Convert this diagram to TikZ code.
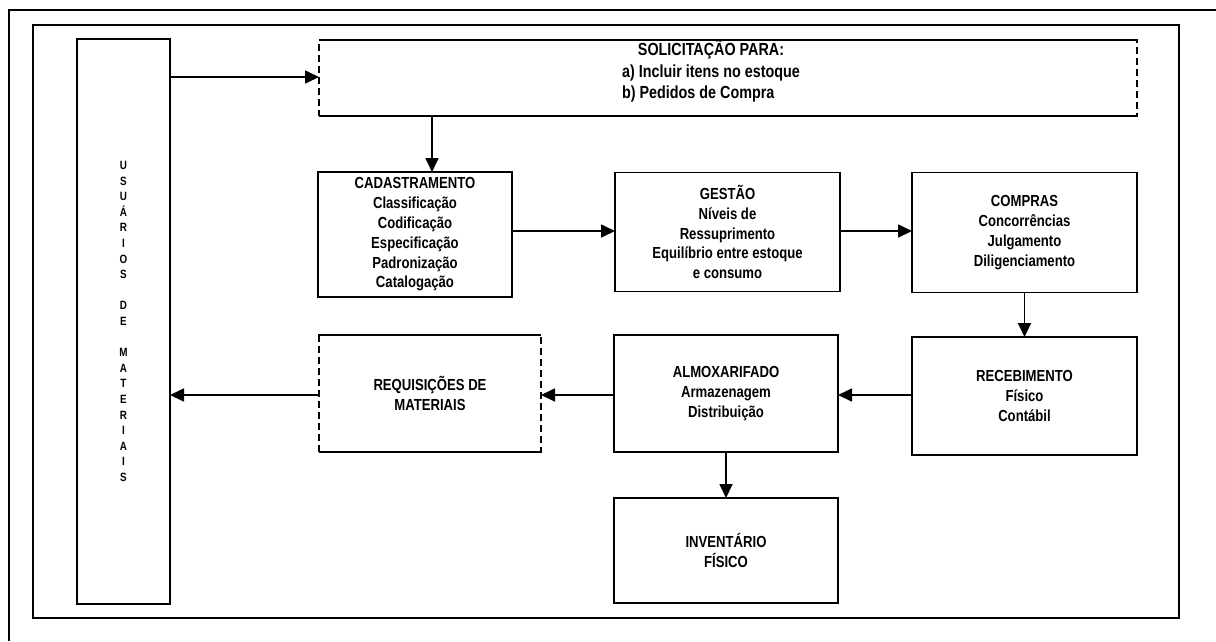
\documentclass[tikz,border=0pt]{standalone}
\usepackage{fontspec}
\setmainfont{Liberation Sans}[FakeStretch=0.82]
\usetikzlibrary{arrows.meta}
\begin{document}
\begin{tikzpicture}[x=1pt,y=-1pt,
  box/.style={draw, line width=1.7pt, inner sep=0pt, outer sep=0pt, align=center,
    font=\fontsize{16}{19.8}\selectfont\bfseries},
  dbox/.style={box, dash pattern=on 7pt off 4pt},
  solid edge/.style={line width=1.7pt},
  conn/.style={line width=1.7pt, -{Triangle[length=14pt,width=13pt]}},
  frame/.style={line width=1.6pt}]
\useasboundingbox (0,0) rectangle (1216,641);
% page frame
\draw[line width=2.8pt] (9,641) -- (9,10) -- (1216,10);
\draw[frame] (33,25) rectangle (1179,618);
% users column
\node[box, minimum width=93pt, minimum height=565pt, font=\fontsize{12}{15.6}\selectfont\bfseries]
  (usu) at (123.5,321.5)
  {U\\S\\U\\Á\\R\\I\\O\\S\\[15.6pt]D\\E\\[15.6pt]M\\A\\T\\E\\R\\I\\A\\I\\S};
% solicitation
\node[dbox, minimum width=818pt, minimum height=76pt] (sol) at (728,78) {};
\draw[solid edge] (sol.north west) -- (sol.north east);
\draw[solid edge] (sol.south west) -- (sol.south east);
\node[inner sep=0pt, font=\fontsize{17.5}{21.5}\selectfont\bfseries] (soltxt) at (711,72.5)
  {\begin{tabular}{@{}l@{}}\multicolumn{1}{@{}c@{}}{SOLICITAÇÃO PARA:}\\
   a) Incluir itens no estoque\\ b) Pedidos de Compra\end{tabular}};
% first row
\node[box, minimum width=194pt, minimum height=125pt] (cad) at (415,234.5)
  {CADASTRAMENTO\\Classificação\\Codificação\\Especificação\\Padronização\\Catalogação};
\node[box, minimum width=225pt, minimum height=119pt] (ges) at (727.5,232)
  {GESTÃO\\Níveis de\\Ressuprimento\\Equilíbrio entre estoque\\e consumo};
\node[box, minimum width=225pt, minimum height=120pt] (com) at (1024.5,232.5)
  {COMPRAS\\Concorrências\\Julgamento\\Diligenciamento};
% second row
\node[box, minimum width=225pt, minimum height=118pt] (rec) at (1024.5,396)
  {RECEBIMENTO\\Físico\\Contábil};
\node[box, minimum width=224pt, minimum height=117pt] (alm) at (726,393.5)
  {ALMOXARIFADO\\Armazenagem\\Distribuição};
\node[dbox, minimum width=222pt, minimum height=117pt] (req) at (430,393.5)
  {REQUISIÇÕES DE\\MATERIAIS};
\draw[solid edge] (req.north west) -- (req.north east);
\draw[solid edge] (req.south west) -- (req.south east);
\node[box, minimum width=224pt, minimum height=105pt] (inv) at (726,550.5)
  {INVENTÁRIO\\FÍSICO};
% connectors
\draw[conn] (usu.east |- 0,77) -- (sol.west |- 0,77);
\draw[conn] (sol.south -| 432,0) -- (cad.north -| 432,0);
\draw[conn] (cad.east |- 0,231) -- (ges.west |- 0,231);
\draw[conn] (ges.east |- 0,231) -- (com.west |- 0,231);
\draw[conn] (com.south) -- (rec.north);
\draw[conn] (rec.west |- 0,395) -- (alm.east |- 0,395);
\draw[conn] (alm.west |- 0,395) -- (req.east |- 0,395);
\draw[conn] (req.west |- 0,395) -- (usu.east |- 0,395);
\draw[conn] (alm.south) -- (inv.north);
\end{tikzpicture}
\end{document}
